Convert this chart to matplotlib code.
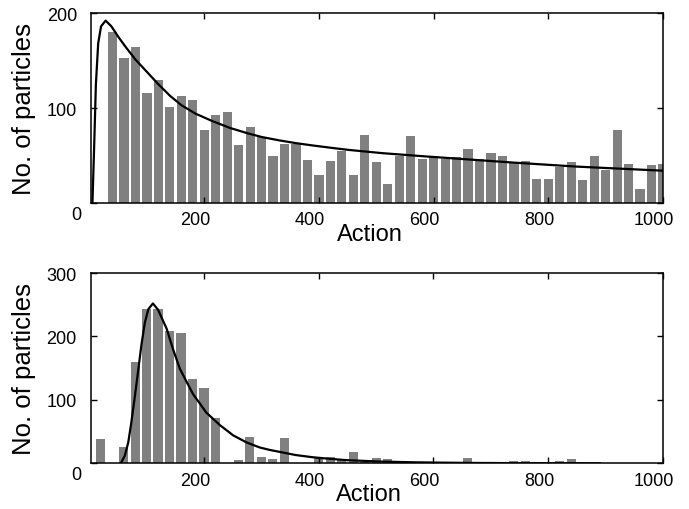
import matplotlib
matplotlib.use("Agg")
import matplotlib.pyplot as plt
from matplotlib.transforms import ScaledTranslation

plt.rcParams['font.family'] = ['Liberation Sans', 'DejaVu Sans']

# histogram bin centres (Action)
bins = list(range(20, 1001, 20))

# top panel counts (first bin, 20, is empty)
top_counts = [0, 180, 153, 164, 116, 130, 101, 113, 108, 77,
              93, 96, 61, 80, 70, 49, 62, 62, 45, 30,
              44, 55, 29, 72, 43, 20, 50, 71, 46, 49,
              46, 48, 57, 46, 53, 49, 43, 44, 25, 25,
              38, 43, 24, 49, 35, 77, 41, 15, 40, 41]

# bottom panel counts
bot_counts = [38, 0, 25, 160, 244, 243, 209, 206, 133, 118,
              71, 0, 5, 42, 10, 7, 40, 1, 0, 10,
              10, 6, 18, 2, 8, 7, 2, 2, 1, 1,
              0, 0, 8, 2, 1, 0, 4, 3, 0, 0,
              4, 7, 1, 0, 0, 0, 0, 0, 0, 0]

# fitted curves
top_fit_x = [5, 8, 11, 15, 20, 28, 38, 50, 62, 80, 100, 120, 140, 160, 185,
             215, 245, 275, 300, 330, 360, 390, 420, 450, 510, 580, 650, 740,
             850, 1000]
top_fit_y = [0, 60, 125, 168, 186, 192, 186, 175, 165, 151, 138, 125, 113, 103, 94,
             86, 79, 73.5, 69.5, 66, 63, 60.5, 58.2, 56, 52.5, 49.3, 46.3, 42.5,
             38.3, 34]

bot_fit_x = [55, 62, 68, 73, 79, 85, 91, 97, 103, 111, 120, 128, 135, 146, 158,
             170, 181, 193, 204, 228, 251, 274, 297, 315, 332, 360, 390, 420, 448,
             506, 565, 620, 681, 780, 890]
bot_fit_y = [0, 12, 33, 62, 102, 144, 187, 222, 243, 252, 242, 226, 212, 180, 149,
             128, 109, 94, 80, 60, 44, 33, 25, 21, 18, 13, 9.5, 7, 5,
             2.8, 1.6, 1, 0.5, 0.2, 0]

xticks = [200, 400, 600, 800, 1000]

fig = plt.figure(figsize=(6.89, 5.10), dpi=100)
ax1 = fig.add_axes([0.1321, 0.600, 0.8302, 0.3725])
ax2 = fig.add_axes([0.1316, 0.0896, 0.8306, 0.3731])

panels = [(ax1, top_counts, top_fit_x, top_fit_y, [100, 200], 200),
          (ax2, bot_counts, bot_fit_x, bot_fit_y, [100, 200, 300], 300)]

for ax, counts, fx, fy, yt, ymax in panels:
    ax.bar(bins, counts, width=16, color='#808080', edgecolor='none', zorder=1)
    ax.plot(fx, fy, color='black', lw=1.6, zorder=3)
    ax.set_xlim(2.5, 1000)
    ax.set_ylim(0, ymax)
    ax.set_xticks(xticks)
    ax.set_yticks([0] + yt)
    ax.set_yticklabels([''] + [str(v) for v in yt])
    ax.tick_params(direction='in', length=4, width=1, top=True, right=True,
                   labelsize=13)
    ax.tick_params(axis='y', pad=10)
    ax.tick_params(axis='x', pad=6)
    for s in ax.spines.values():
        s.set_linewidth(1.1)
    # tick labels sit a little left of their ticks in the original
    shift = ScaledTranslation(-9 / 100, 0, fig.dpi_scale_trans)
    for lab in ax.get_xticklabels():
        lab.set_transform(lab.get_transform() + shift)
    ax.text(-0.016, -0.016, '0', transform=ax.transAxes, ha='right', va='top',
            fontsize=13)
    ax.set_xlabel('Action', fontsize=17)
    ax.xaxis.set_label_coords(0.487, -0.105)
    ax.set_ylabel('No. of particles', fontsize=18.5)
    ax.yaxis.label.set_va('center')
    ax.yaxis.set_label_coords(-0.117, 0.5)

fig.savefig('out.png', dpi=100)
